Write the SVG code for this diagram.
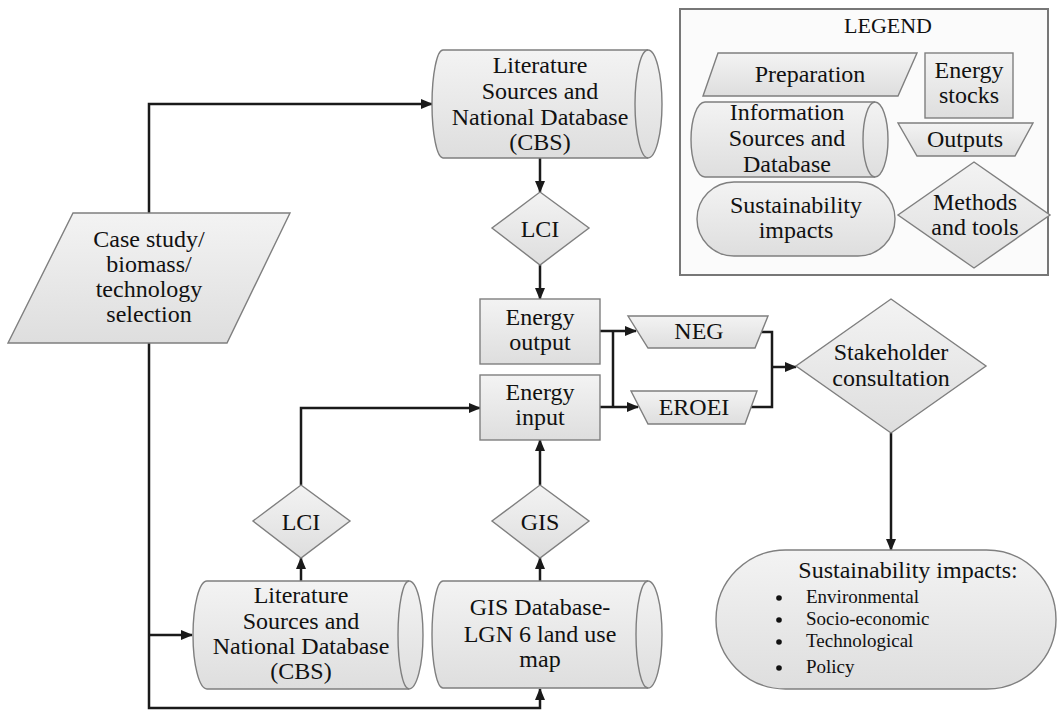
<svg xmlns="http://www.w3.org/2000/svg" width="1057" height="710" viewBox="0 0 1057 710">
<defs>
<linearGradient id="g" x1="0" y1="0" x2="0" y2="1">
<stop offset="0" stop-color="#f3f3f3"/>
<stop offset="1" stop-color="#dedede"/>
</linearGradient>
<marker id="ah" markerUnits="userSpaceOnUse" markerWidth="12" markerHeight="10" refX="11" refY="5" orient="auto">
<path d="M0,0 L12,5 L0,10 Z" fill="#1a1a1a"/>
</marker>
<style>
.s{fill:url(#g);stroke:#7f7f7f;stroke-width:1.4}
.in{fill:none;stroke:#7f7f7f;stroke-width:1.4}
.c{fill:none;stroke:#1a1a1a;stroke-width:2.5}
.a{marker-end:url(#ah)}
.lbl{font-family:'Liberation Serif','Times New Roman',serif;font-size:24px;fill:#111;text-anchor:middle}
.b{font-family:'Liberation Serif','Times New Roman',serif;font-size:19px;fill:#111;text-anchor:start}
.lg{font-family:'Liberation Serif','Times New Roman',serif;font-size:22px;fill:#111;text-anchor:middle}
</style>
</defs>
<rect width="1057" height="710" fill="#ffffff"/>

<g id="connectors">
<path class="c a" d="M149,213 V104 H432"/>
<path class="c a" d="M149,343 V708 H540 V689"/>
<path class="c a" d="M149,635 H192"/>
<path class="c a" d="M540,158 V192"/>
<path class="c a" d="M540,265 V299"/>
<path class="c a" d="M600,331 H636"/>
<path class="c a" d="M600,407 H638"/>
<path class="c" d="M613,331 V407"/>
<path class="c" d="M761,332 H772 V407 H751"/>
<path class="c a" d="M772,367 H796"/>
<path class="c a" d="M891,433 V550"/>
<path class="c a" d="M301,581 V558"/>
<path class="c a" d="M301,485 V408 H480"/>
<path class="c a" d="M540,581 V558"/>
<path class="c a" d="M540,485 V440"/>
</g>

<g id="legend">
<rect x="680" y="9" width="368" height="266" fill="#fbfbfb" stroke="#777" stroke-width="2"/>
<text class="lg" x="888" y="33">LEGEND</text>
<g id="legend-preparation">
<polygon class="s" points="718,53 917,53 898,96 703,96"/>
<text class="lbl" style="font-family:'Liberation Serif',serif" x="810" y="82">Preparation</text>
</g>
<g id="legend-energy-stocks">
<rect class="s" x="925" y="53" width="88" height="65"/>
<text class="lbl" style="font-family:'Liberation Serif',serif" x="969" y="78">Energy</text>
<text class="lbl" style="font-family:'Liberation Serif',serif" x="969" y="103">stocks</text>
</g>
<g id="legend-info">
<path class="s" d="M705,102 L875,102 A13,37.5 0 0 1 875,177 L705,177 A14,37.5 0 0 1 705,102 Z"/>
<path class="in" d="M875,102 A12,37.5 0 0 0 875,177"/>
<text class="lbl" style="font-family:'Liberation Serif',serif" x="787" y="120">Information</text>
<text class="lbl" style="font-family:'Liberation Serif',serif" x="787" y="146">Sources and</text>
<text class="lbl" style="font-family:'Liberation Serif',serif" x="787" y="172">Database</text>
</g>
<g id="legend-outputs">
<polygon class="s" points="898,123 1033,123 1015,156 917,156"/>
<text class="lbl" style="font-family:'Liberation Serif',serif" x="965" y="147">Outputs</text>
</g>
<g id="legend-sust">
<rect class="s" x="697" y="182" width="198" height="74" rx="37" ry="37"/>
<text class="lbl" style="font-family:'Liberation Serif',serif" x="796" y="213">Sustainability</text>
<text class="lbl" style="font-family:'Liberation Serif',serif" x="796" y="238">impacts</text>
</g>
<g id="legend-methods">
<polygon class="s" points="974,162 1050,215 974,268 898,215"/>
<text class="lbl" style="font-family:'Liberation Serif',serif" x="975" y="210">Methods</text>
<text class="lbl" style="font-family:'Liberation Serif',serif" x="975" y="235">and tools</text>
</g>
</g>

<g id="case-study">
<polygon class="s" points="73,213 290,213 227,343 8,343"/>
<text class="lbl" style="font-family:'Liberation Serif',serif" x="149" y="247">Case study/</text>
<text class="lbl" style="font-family:'Liberation Serif',serif" x="149" y="272">biomass/</text>
<text class="lbl" style="font-family:'Liberation Serif',serif" x="149" y="297">technology</text>
<text class="lbl" style="font-family:'Liberation Serif',serif" x="149" y="322">selection</text>
</g>

<g id="lit-top">
<path class="s" d="M443,50 L648,50 A14,54 0 0 1 648,158 L443,158 A11,54 0 0 1 443,50 Z"/>
<path class="in" d="M648,50 A13,54 0 0 0 648,158"/>
<text class="lbl" style="font-family:'Liberation Serif',serif" x="540" y="73">Literature</text>
<text class="lbl" style="font-family:'Liberation Serif',serif" x="540" y="99">Sources and</text>
<text class="lbl" style="font-family:'Liberation Serif',serif" x="540" y="125">National Database</text>
<text class="lbl" style="font-family:'Liberation Serif',serif" x="540" y="150">(CBS)</text>
</g>

<g id="lci-top">
<polygon class="s" points="540,192 589,228 540,265 492,228"/>
<text class="lbl" style="font-family:'Liberation Serif',serif" x="540" y="237">LCI</text>
</g>

<g id="energy-output">
<rect class="s" x="480" y="299" width="120" height="65"/>
<text class="lbl" style="font-family:'Liberation Serif',serif" x="540" y="325">Energy</text>
<text class="lbl" style="font-family:'Liberation Serif',serif" x="540" y="350">output</text>
</g>

<g id="energy-input">
<rect class="s" x="480" y="375" width="120" height="65"/>
<text class="lbl" style="font-family:'Liberation Serif',serif" x="540" y="400">Energy</text>
<text class="lbl" style="font-family:'Liberation Serif',serif" x="540" y="425">input</text>
</g>

<g id="neg">
<polygon class="s" points="628,316 768,316 755,348 648,348"/>
<text class="lbl" style="font-family:'Liberation Serif',serif" x="699" y="339">NEG</text>
</g>

<g id="eroei">
<polygon class="s" points="631,391 757,391 745,424 648,424"/>
<text class="lbl" style="font-family:'Liberation Serif',serif" x="694" y="415">EROEI</text>
</g>

<g id="stakeholder">
<polygon class="s" points="891,299 986,366 891,433 796,366"/>
<text class="lbl" style="font-family:'Liberation Serif',serif" x="891" y="360">Stakeholder</text>
<text class="lbl" style="font-family:'Liberation Serif',serif" x="891" y="386">consultation</text>
</g>

<g id="sust-impacts">
<rect class="s" x="716" y="550" width="340" height="139" rx="69.5" ry="69.5"/>
<text class="lbl" style="font-family:'Liberation Serif',serif" x="908" y="578">Sustainability impacts:</text>
<circle cx="779" cy="598" r="2.8" fill="#111"/>
<circle cx="779" cy="620" r="2.8" fill="#111"/>
<circle cx="779" cy="642" r="2.8" fill="#111"/>
<circle cx="779" cy="668" r="2.8" fill="#111"/>
<text class="b" x="806" y="603">Environmental</text>
<text class="b" x="806" y="625">Socio-economic</text>
<text class="b" x="806" y="647">Technological</text>
<text class="b" x="806" y="673">Policy</text>
</g>

<g id="lci-bottom">
<polygon class="s" points="301,485 350,521 301,558 253,521"/>
<text class="lbl" style="font-family:'Liberation Serif',serif" x="301" y="530">LCI</text>
</g>

<g id="gis">
<polygon class="s" points="540,485 589,521 540,558 492,521"/>
<text class="lbl" style="font-family:'Liberation Serif',serif" x="540" y="530">GIS</text>
</g>

<g id="lit-bottom">
<path class="s" d="M207,581 L409,581 A14,54 0 0 1 409,689 L207,689 A14,54 0 0 1 207,581 Z"/>
<path class="in" d="M409,581 A11,54 0 0 0 409,689"/>
<text class="lbl" style="font-family:'Liberation Serif',serif" x="301" y="603">Literature</text>
<text class="lbl" style="font-family:'Liberation Serif',serif" x="301" y="629">Sources and</text>
<text class="lbl" style="font-family:'Liberation Serif',serif" x="301" y="654">National Database</text>
<text class="lbl" style="font-family:'Liberation Serif',serif" x="301" y="679">(CBS)</text>
</g>

<g id="gis-db">
<path class="s" d="M443,581 L648,581 A14,53.5 0 0 1 648,688 L443,688 A11,53.5 0 0 1 443,581 Z"/>
<path class="in" d="M648,581 A12,53.5 0 0 0 648,688"/>
<text class="lbl" style="font-family:'Liberation Serif',serif" x="540" y="615">GIS Database-</text>
<text class="lbl" style="font-family:'Liberation Serif',serif" x="540" y="642">LGN 6 land use</text>
<text class="lbl" style="font-family:'Liberation Serif',serif" x="540" y="667">map</text>
</g>
</svg>
